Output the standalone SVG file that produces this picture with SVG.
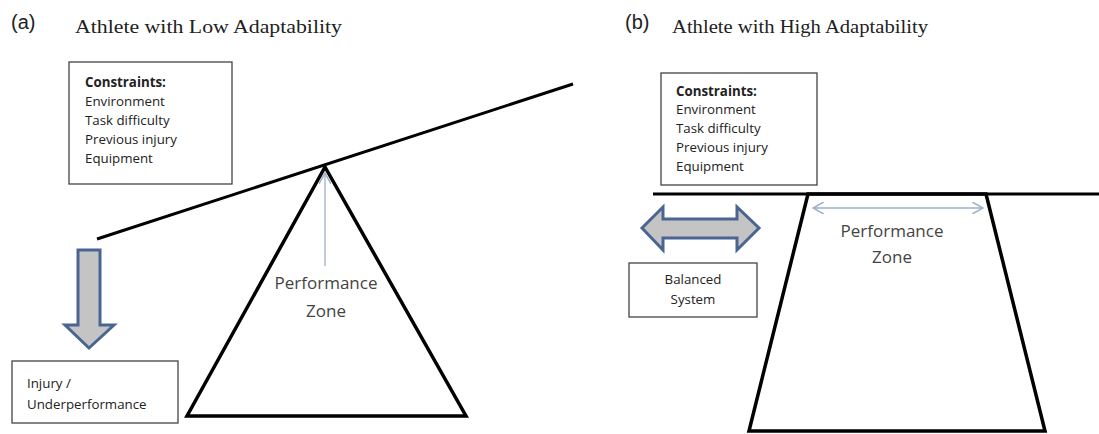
<svg xmlns="http://www.w3.org/2000/svg" width="1099" height="434" viewBox="0 0 1099 434">
<style>
.lbl{font-family:"Liberation Sans",Arial,sans-serif;fill:#222}
.title{font-family:"Liberation Serif","Times New Roman",serif;font-size:18px;fill:#222}
.cs{font-family:"Open Sans","Liberation Sans",sans-serif;font-size:13.3px;fill:#222}
.box{fill:#fff;stroke:#444;stroke-width:1.3}
.heavy{fill:none;stroke:#000;stroke-width:3.5;stroke-linejoin:miter}
.thin{stroke:#9fb0c8;stroke-width:1.3;fill:none}
.block{fill:#c4c4c4;stroke:#4a6591;stroke-width:3;stroke-linejoin:miter}
.pz{font-family:"Open Sans","Liberation Sans",sans-serif;font-size:17px;fill:#444;text-anchor:middle}
</style>
<defs>
<marker id="chev" viewBox="0 0 10 10" refX="9" refY="5" markerWidth="12" markerHeight="12" markerUnits="userSpaceOnUse" orient="auto-start-reverse">
<path d="M0,0 L9,5 L0,10" fill="none" stroke="#9fb0c8" stroke-width="1.3"/>
</marker>
</defs>
<g id="panel-a-labels">
<text class="lbl" x="11" y="29" font-size="20">(a)</text>
<text class="title" x="75" y="33" textLength="267" lengthAdjust="spacingAndGlyphs">Athlete with Low Adaptability</text>
</g>
<g id="constraints-a">
<rect class="box" x="69" y="62" width="163" height="122"/>
<text class="cs" x="85" y="87" font-weight="bold">Constraints:</text>
<text class="cs" x="85" y="106">Environment</text>
<text class="cs" x="85" y="125">Task difficulty</text>
<text class="cs" x="85" y="144">Previous injury</text>
<text class="cs" x="85" y="163">Equipment</text>
</g>
<g id="seesaw-a">
<line x1="97" y1="239" x2="573" y2="84" stroke="#000" stroke-width="3"/>
<polygon class="heavy" points="325,167 187,416 466,416"/>
<text class="pz" x="326" y="289">Performance</text>
<text class="pz" x="326" y="317">Zone</text>
</g>
<g id="down-arrow-a">
<polygon class="block" points="78,250 100,250 100,325 114,325 89,348 65,325 78,325"/>
</g>
<g id="injury-box">
<rect class="box" x="12" y="361" width="166" height="62"/>
<text class="cs" x="27" y="388" font-size="15">Injury /</text>
<text class="cs" x="27" y="409" font-size="15">Underperformance</text>
</g>
<g id="panel-b-labels">
<text class="lbl" x="625" y="29" font-size="20">(b)</text>
<text class="title" x="672" y="33" textLength="256" lengthAdjust="spacingAndGlyphs">Athlete with High Adaptability</text>
</g>
<g id="constraints-b">
<rect class="box" x="661" y="73" width="156" height="112"/>
<text class="cs" x="676" y="96" font-weight="bold">Constraints:</text>
<text class="cs" x="676" y="114">Environment</text>
<text class="cs" x="676" y="133">Task difficulty</text>
<text class="cs" x="676" y="152">Previous injury</text>
<text class="cs" x="676" y="171">Equipment</text>
</g>
<g id="platform-b">
<line x1="653" y1="194" x2="1099" y2="194" stroke="#000" stroke-width="3"/>
<polygon class="heavy" points="808,194 986,194 1045,431 749,431"/>
<text class="pz" x="892" y="237">Performance</text>
<text class="pz" x="892" y="263">Zone</text>
</g>
<g id="double-arrow-b">
<polygon class="block" points="642,228 663,207 663,219 737,219 737,207 759,228 737,250 737,238 663,238 663,250"/>
</g>
<g id="balanced-box">
<rect class="box" x="629" y="263" width="128" height="54"/>
<text class="cs" x="693" y="284" text-anchor="middle">Balanced</text>
<text class="cs" x="693" y="304" text-anchor="middle">System</text>
</g>
<g id="connectors">
<line class="thin" x1="325" y1="266" x2="325" y2="173" marker-end="url(#chev)"/>
<line class="thin" x1="813" y1="208" x2="983" y2="208" marker-start="url(#chev)" marker-end="url(#chev)"/>
</g>
</svg>
